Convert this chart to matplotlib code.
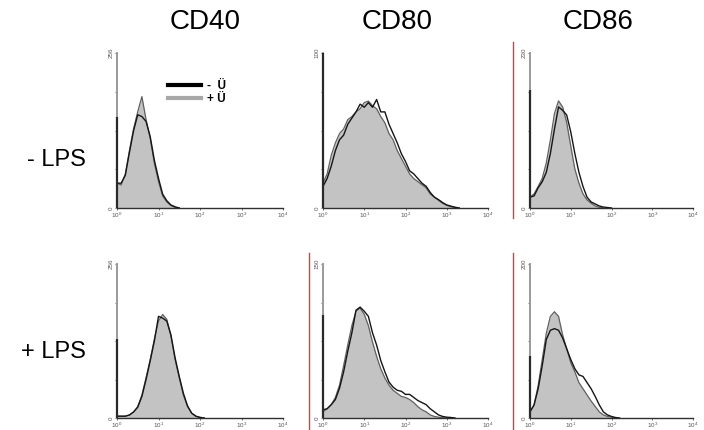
import numpy as np
import matplotlib
matplotlib.use("Agg")
import matplotlib.pyplot as plt
from matplotlib.lines import Line2D
from matplotlib.ticker import LogFormatterMathtext, FixedLocator, NullLocator

plt.rcParams['font.family'] = ['Liberation Sans', 'DejaVu Sans']

# fluorescence channel grid, in decades (10^0 .. 10^4)
decades = np.linspace(0, 4, 41)

markers = ["CD40", "CD80", "CD86"]
conditions = ["- LPS", "+ LPS"]
legend_labels = ["-  Ü", "+ Ü"]

# full-scale count of each histogram (row, column)
ymax = [[256, 100, 230],
        [256, 150, 200]]

# events piled up in the first channel
first_channel = [[151, 100, 175],
                 [131, 100, 80]]

# counts per 0.1-decade bin; "plus" = + Ü (filled), "minus" = - Ü (outline)
cd40_nolps_plus = [41, 38, 56, 95, 131, 159, 184, 146, 115, 74, 44, 20, 10, 4, 1, 0]
cd40_nolps_minus = [41, 41, 54, 92, 128, 154, 151, 143, 118, 79, 49, 23, 12, 5, 2, 0]

cd80_nolps_plus = [16, 22, 34, 42, 48, 51, 57, 59, 62, 64,
                   68, 69, 66, 64, 59, 55, 48, 44, 37, 32,
                   27, 22, 19, 17, 15, 13, 9, 7, 5, 3,
                   1.7, 0.8, 0.3, 0]
cd80_nolps_minus = [14, 19, 27, 37, 44, 47, 54, 58, 62, 67,
                    65, 68, 65, 70, 62, 62, 54, 48, 42, 35,
                    30, 24, 22, 19, 16, 14, 10, 7, 5.4, 3.5,
                    2, 1.2, 0.5, 0]

cd86_nolps_plus = [16, 21, 32, 44, 67, 101, 140, 159, 150, 127,
                   92, 58, 37, 21, 12, 7, 3, 1, 0]
cd86_nolps_minus = [16, 18, 30, 39, 53, 81, 117, 150, 145, 138,
                    113, 81, 53, 32, 16, 9, 6, 3, 1.4, 0.7, 0]

cd40_lps_plus = [3, 3, 3, 5, 10, 19, 38, 67, 97, 131,
                 161, 172, 164, 136, 97, 67, 38, 19, 8, 3, 1, 0]
cd40_lps_minus = [3, 3, 3, 5, 10, 18, 36, 64, 95, 128,
                  169, 166, 161, 138, 100, 69, 41, 20, 8, 3, 1, 0]

cd80_lps_plus = [6, 9, 13, 20, 32, 51, 71, 90, 104, 107,
                 101, 90, 74, 60, 48, 39, 32, 27, 24, 21,
                 20, 18, 15, 11, 8, 6, 3, 1.5, 0.8, 0.3, 0]
cd80_lps_minus = [8, 9, 13, 18, 29, 45, 65, 83, 105, 108,
                  104, 99, 83, 71, 56, 45, 35, 30, 27, 26,
                  23, 23, 20, 17, 15, 13, 9, 6, 3, 1.5,
                  0.8, 0.5, 0]

cd86_lps_plus = [8, 17, 42, 76, 110, 132, 138, 132, 108, 90,
                 72, 60, 46, 38, 30, 22, 15, 8, 4, 2, 1, 0]
cd86_lps_minus = [8, 17, 38, 68, 102, 114, 116, 114, 104, 90,
                  76, 64, 56, 54, 46, 38, 28, 17, 8, 4, 2, 0.6, 0]

plus_series = [[cd40_nolps_plus, cd80_nolps_plus, cd86_nolps_plus],
               [cd40_lps_plus, cd80_lps_plus, cd86_lps_plus]]
minus_series = [[cd40_nolps_minus, cd80_nolps_minus, cd86_nolps_minus],
                [cd40_lps_minus, cd80_lps_minus, cd86_lps_minus]]

W, H = 704, 430
fig = plt.figure(figsize=(W / 100, H / 100), dpi=100)

col_px = [(117, 283), (323, 488), (530, 693)]
row_px = [(53, 208), (264, 418)]


def px_rect(x0, x1, ytop, ybot):
    return [x0 / W, 1 - ybot / H, (x1 - x0) / W, (ybot - ytop) / H]


fill_color = "#c3c3c3"
fill_edge = "#606060"
line_color = "#151515"

axes = {}
for r in range(2):
    for c in range(3):
        ax = fig.add_axes(px_rect(col_px[c][0], col_px[c][1], *row_px[r]))
        axes[(r, c)] = ax
        top = ymax[r][c]
        p = np.array(plus_series[r][c], dtype=float)
        m = np.array(minus_series[r][c], dtype=float)
        xp = 10 ** decades[:len(p)]
        xm = 10 ** decades[:len(m)]

        ax.fill_between(xp, p, 0, color=fill_color, lw=0, zorder=1)
        ax.plot(xp, p, color=fill_edge, lw=0.9, zorder=2)
        ax.plot(xm, m, color=line_color, lw=1.0, zorder=3)
        # pile-up in the first channel
        ax.plot([1.0, 1.0], [0, min(first_channel[r][c], top)],
                color="#2a2a2a", lw=1.6, zorder=4, clip_on=False,
                solid_capstyle="butt")

        ax.set_xscale("log")
        ax.set_xlim(1, 1e4)
        ax.set_ylim(0, top)
        for s in ("top", "right"):
            ax.spines[s].set_visible(False)
        ax.spines["left"].set_color("#9a9a9a")
        ax.spines["left"].set_linewidth(1.4)
        ax.spines["bottom"].set_color("#303030")
        ax.spines["bottom"].set_linewidth(1.0)

        ax.xaxis.set_major_locator(FixedLocator([1, 10, 100, 1000, 10000]))
        ax.xaxis.set_major_formatter(LogFormatterMathtext())
        ax.xaxis.set_minor_locator(NullLocator())
        ax.tick_params(axis="x", labelsize=4.5, length=1.5, width=0.6,
                       pad=0.5, colors="#555555", labelcolor="#555555")

        ax.set_yticks(np.linspace(0, top, 5))
        ax.set_yticklabels(["0", "", "", "", str(top)], rotation=90,
                           va="center")
        ax.tick_params(axis="y", labelsize=4.5, length=1.5, width=0.6,
                       pad=1, colors="#555555", labelcolor="#555555")
        for lbl in ax.get_yticklabels():
            lbl.set_verticalalignment("center")

# marker names over the columns
title_x = [205, 397, 598]
for c, name in enumerate(markers):
    fig.text(title_x[c] / W, 1 - 22 / H, name, ha="center", va="center",
             fontsize=20)

# stimulation condition beside each row
row_label_y = [160, 352]
for r, name in enumerate(conditions):
    fig.text(86 / W, 1 - row_label_y[r] / H, name, ha="right", va="center",
             fontsize=17)

# legend for the two overlays
handles = [Line2D([], [], color="#000000", lw=3.0),
           Line2D([], [], color="#a8a8a8", lw=3.0)]
axes[(0, 0)].legend(handles, legend_labels, loc="upper left",
                    bbox_to_anchor=(168 / W, 1 - 80 / H),
                    bbox_transform=fig.transFigure, frameon=False,
                    prop={"weight": "bold", "size": 8.5},
                    handlelength=2.8, handletextpad=0.5,
                    labelspacing=0.1, borderpad=0, borderaxespad=0)

# thin red splice marks between panels
red = "#e03a3e"
for xpx, ytop, ybot in [(513, 42, 218), (309, 253, 430), (513, 253, 430)]:
    fig.add_artist(Line2D([xpx / W, xpx / W], [1 - ytop / H, 1 - ybot / H],
                          color=red, lw=1.0))

fig.savefig("out.png", dpi=100)
